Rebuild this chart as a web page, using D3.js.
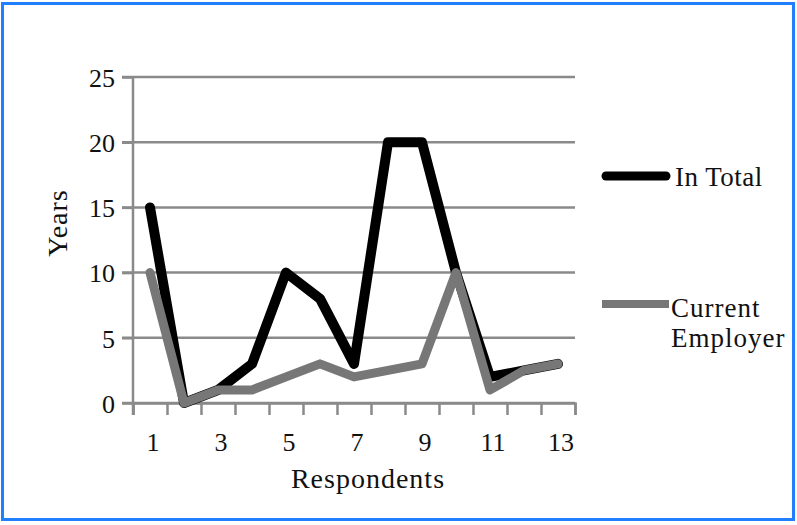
<!DOCTYPE html>
<html>
<head>
<meta charset="utf-8">
<script src="https://cdn.jsdelivr.net/npm/d3@7"></script>
<style>
  body { margin: 0; background: #fff; }
  text { font-family: "Liberation Serif", "Times New Roman", serif; fill: #111; }
</style>
</head>
<body>
<svg id="chart"></svg>
<script>
// respondents 1..13
let respondents = d3.range(1, 14);
let inTotal = [15, 0, 1, 3, 10, 8, 3, 20, 20, 10, 2, 2.5, 3];
let currentEmployer = [10, 0, 1, 1, 2, 3, 2, 2.5, 3, 10, 1, 2.5, 3];
let yTicks = [0, 5, 10, 15, 20, 25];
let xLabels = [1, 3, 5, 7, 9, 11, 13];

let svgW = 797, svgH = 525;
let plot = { left: 133, right: 575, top: 77, bottom: 403 };

let svg = d3.select("#chart")
    .attr("width", svgW)
    .attr("height", svgH);

// blue frame round the picture
svg.append("rect")
    .attr("x", 2.5).attr("y", 3.5)
    .attr("width", 791).attr("height", 516)
    .attr("fill", "none")
    .attr("stroke", "#1f7fff")
    .attr("stroke-width", 3);

let xBand = d3.scaleBand()
    .domain(respondents)
    .range([plot.left, plot.right]);

// edges of the categories, for the tick marks
let xEdge = d3.scaleLinear()
    .domain([0, respondents.length])
    .range([plot.left, plot.right]);

let yScale = d3.scaleLinear()
    .domain([0, 25])
    .range([plot.bottom, plot.top]);

let gridColor = "#8a8a8a";

// gridlines
svg.append("g")
    .selectAll("line")
    .data(yTicks)
    .enter()
    .append("line")
    .attr("x1", plot.left - 11)
    .attr("x2", plot.right)
    .attr("y1", d => yScale(d))
    .attr("y2", d => yScale(d))
    .attr("stroke", gridColor)
    .attr("stroke-width", 2.5);

// y axis
let yAxis = d3.axisLeft(yScale)
    .tickValues(yTicks)
    .tickSize(11)
    .tickPadding(7);

let gy = svg.append("g")
    .attr("transform", "translate(" + plot.left + ",0)")
    .call(yAxis);
gy.select(".domain").remove();
gy.selectAll("line").attr("stroke", gridColor).attr("stroke-width", 2.5);
gy.selectAll("text").style("font-size", "26px").attr("dy", "0.36em");

svg.append("line")
    .attr("x1", plot.left).attr("x2", plot.left)
    .attr("y1", plot.top).attr("y2", plot.bottom + 12)
    .attr("stroke", gridColor)
    .attr("stroke-width", 2.5);

// x axis tick marks between the categories
let xTickAxis = d3.axisBottom(xEdge)
    .tickValues(d3.range(respondents.length + 1))
    .tickFormat("")
    .tickSize(12);

let gx = svg.append("g")
    .attr("transform", "translate(0," + plot.bottom + ")")
    .call(xTickAxis);
gx.select(".domain").attr("stroke", gridColor).attr("stroke-width", 2.5);
gx.selectAll("line").attr("stroke", gridColor).attr("stroke-width", 2.5);

// x axis labels, every other respondent
let xLabelAxis = d3.axisBottom(xBand)
    .tickValues(xLabels)
    .tickSize(0)
    .tickPadding(30);

let gxl = svg.append("g")
    .attr("transform", "translate(3," + plot.bottom + ")")
    .call(xLabelAxis);
gxl.select(".domain").remove();
gxl.selectAll("text").style("font-size", "26px");

// lines
let line = function (values) {
    return d3.line()
        .x((d, i) => xBand(respondents[i]) + xBand.bandwidth() / 2)
        .y(d => yScale(d))(values);
};

svg.append("path")
    .attr("d", line(inTotal))
    .attr("fill", "none")
    .attr("stroke", "#000")
    .attr("stroke-width", 10)
    .attr("stroke-linejoin", "round")
    .attr("stroke-linecap", "round");

svg.append("path")
    .attr("d", line(currentEmployer))
    .attr("fill", "none")
    .attr("stroke", "#777")
    .attr("stroke-width", 9)
    .attr("stroke-linejoin", "round")
    .attr("stroke-linecap", "round");

// axis titles
svg.append("text")
    .attr("transform", "translate(67,223) rotate(-90)")
    .attr("text-anchor", "middle")
    .style("font-size", "28px")
    .style("letter-spacing", "1px")
    .text("Years");

svg.append("text")
    .attr("x", 368).attr("y", 488)
    .attr("text-anchor", "middle")
    .style("font-size", "28px")
    .style("letter-spacing", "1px")
    .text("Respondents");

// legend
svg.append("line")
    .attr("x1", 606).attr("x2", 666)
    .attr("y1", 176).attr("y2", 176)
    .attr("stroke", "#000")
    .attr("stroke-width", 9)
    .attr("stroke-linecap", "round");

svg.append("text")
    .attr("x", 675).attr("y", 186)
    .style("font-size", "27px")
    .style("letter-spacing", "0.5px")
    .text("In Total");

svg.append("line")
    .attr("x1", 602).attr("x2", 669)
    .attr("y1", 304).attr("y2", 304)
    .attr("stroke", "#777")
    .attr("stroke-width", 8);

svg.append("text")
    .attr("x", 671).attr("y", 317)
    .style("font-size", "27px")
    .style("letter-spacing", "1px")
    .text("Current");

svg.append("text")
    .attr("x", 671).attr("y", 347)
    .style("font-size", "27px")
    .style("letter-spacing", "1px")
    .text("Employer");
</script>
</body>
</html>
